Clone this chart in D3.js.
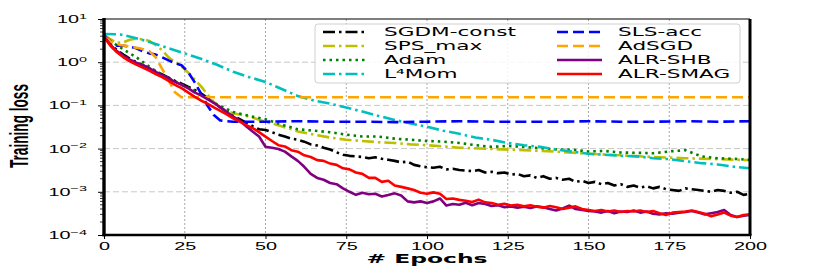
<!DOCTYPE html>
<html>
<head>
<meta charset="utf-8">
<script src="https://cdn.jsdelivr.net/npm/d3@7"></script>
<style>
  body { margin: 0; background: #fff; }
  svg { display: block; }
</style>
</head>
<body>
<div class="chart"></div>
<script>
// ---- data ----
const epochs2 = d3.range(0, 201, 2);   // x grid of the noisy runs
const epochs5 = d3.range(0, 201, 5);

const sgdmConst = [4.0, 2.6, 1.9, 1.5, 1.2, 1.0, 0.85, 0.73, 0.62, 0.52,
  0.44, 0.37, 0.32, 0.27, 0.23, 0.19, 0.15, 0.115, 0.09, 0.072,
  0.058, 0.048, 0.04, 0.033, 0.028, 0.027, 0.024, 0.021, 0.019, 0.017,
  0.016, 0.0145, 0.0125, 0.0118, 0.0105, 0.0095, 0.0082, 0.0072, 0.0068, 0.0066,
  0.0064, 0.006, 0.0063, 0.0058, 0.0055, 0.0052, 0.0048, 0.005, 0.0042, 0.0039,
  0.0037, 0.0036, 0.0038, 0.0033, 0.0034, 0.0032, 0.0031, 0.003, 0.0032, 0.0028,
  0.0029, 0.0027, 0.0028, 0.0025, 0.0026, 0.0023, 0.0024, 0.0021, 0.0023, 0.002,
  0.0021, 0.0019, 0.002, 0.0017, 0.0018, 0.0016, 0.0017, 0.0015, 0.0016, 0.0014,
  0.0015, 0.0013, 0.0014, 0.00125, 0.00135, 0.0012, 0.0013, 0.00115, 0.0011, 0.00105,
  0.0012, 0.00115, 0.0011, 0.00105, 0.001, 0.0011, 0.00105, 0.00095, 0.001, 0.00085,
  0.0009];

const alrShb = [4.0, 2.5, 1.8, 1.4, 1.15, 0.98, 0.85, 0.73, 0.6, 0.5,
  0.42, 0.35, 0.3, 0.25, 0.2, 0.17, 0.14, 0.115, 0.09, 0.07,
  0.055, 0.045, 0.033, 0.025, 0.019, 0.011, 0.0105, 0.0098, 0.0085, 0.0066,
  0.0052, 0.0038, 0.0026, 0.0021, 0.0019, 0.0016, 0.0015, 0.0012, 0.001, 0.00085,
  0.00095, 0.00088, 0.0009, 0.00078, 0.00084, 0.00092, 0.00082, 0.0006, 0.00057, 0.0006,
  0.00055, 0.0006, 0.0007, 0.00048, 0.00052, 0.0005, 0.00056, 0.00049, 0.00055, 0.00052,
  0.00047, 0.00049, 0.00044, 0.00046, 0.00043, 0.00045, 0.00042, 0.00046, 0.00044, 0.0004,
  0.00037, 0.00041, 0.00048, 0.0004, 0.00038, 0.00036, 0.00035, 0.00033, 0.00036, 0.00032,
  0.00035, 0.00034, 0.00037, 0.00033, 0.00035, 0.00031, 0.0003, 0.00032, 0.00031, 0.00033,
  0.00034, 0.00036, 0.00033, 0.0003, 0.00032, 0.00034, 0.00038, 0.00029, 0.00026, 0.00028,
  0.00029];

const alrSmag = [3.8, 2.4, 1.7, 1.3, 1.05, 0.88, 0.75, 0.64, 0.53, 0.45,
  0.37, 0.3, 0.25, 0.2, 0.16, 0.13, 0.11, 0.09, 0.075, 0.062,
  0.05, 0.042, 0.035, 0.03, 0.024, 0.019, 0.015, 0.012, 0.0112, 0.0092,
  0.0085, 0.007, 0.0064, 0.0054, 0.0052, 0.0045, 0.0042, 0.0035, 0.0033, 0.0028,
  0.0026, 0.0021, 0.0021, 0.0017, 0.0018, 0.0014, 0.0013, 0.0012, 0.0011, 0.00095,
  0.0009, 0.00097, 0.0009, 0.00068, 0.0007, 0.00065, 0.00062, 0.00058, 0.00066, 0.00057,
  0.00055, 0.0005, 0.00053, 0.00048, 0.0005, 0.00046, 0.00049, 0.00045, 0.00043, 0.00047,
  0.00044, 0.0004, 0.00043, 0.00046, 0.0004, 0.00038, 0.00036, 0.00038, 0.00035, 0.00037,
  0.00034, 0.00036, 0.00035, 0.00037, 0.00034, 0.00036, 0.00032, 0.00029, 0.00033, 0.00034,
  0.00035, 0.00037, 0.00034, 0.00031, 0.00027, 0.0003, 0.00033, 0.00028, 0.00026, 0.00029,
  0.0003];

const adam = [3.9, 2.2, 1.3, 0.7, 0.42, 0.28, 0.18, 0.105, 0.07, 0.057,
  0.048, 0.036, 0.028, 0.026, 0.024, 0.021, 0.019, 0.019, 0.017, 0.016,
  0.015, 0.0145, 0.0135, 0.012, 0.011, 0.0115, 0.011, 0.0102, 0.0096, 0.0094,
  0.0086, 0.0088, 0.0081, 0.008, 0.0078, 0.0086, 0.0092, 0.0066, 0.006, 0.0058,
  0.0055];

const l4Mom = [4.5, 4.4, 3.6, 2.8, 2.1, 1.6, 1.2, 0.87, 0.6, 0.45,
  0.35, 0.24, 0.165, 0.13, 0.11, 0.089, 0.072, 0.057, 0.046, 0.038,
  0.032, 0.026, 0.022, 0.018, 0.016, 0.0135, 0.012, 0.011, 0.0095, 0.0085,
  0.0076, 0.0072, 0.0068, 0.0066, 0.006, 0.0057, 0.0051, 0.0046, 0.0043, 0.0038,
  0.0035];

const spsEpochs = [0, 2, 4, 6, 8, 10, 12, 14, 16, 18, 20, 22, 24, 26, 28, 30, 32, 34, 36, 38, 40,
  45, 50, 55, 60, 65, 70, 75, 80, 85, 90, 95, 100,
  110, 120, 130, 140, 150, 160, 170, 180, 190, 200];
const spsMax = [4.3, 3.4, 2.8, 2.9, 3.3, 3.5, 3.4, 3.1, 2.5, 1.9, 1.3, 1.0, 0.8, 0.58, 0.4, 0.28, 0.18, 0.12, 0.09, 0.075, 0.066,
  0.055, 0.042, 0.033, 0.025, 0.021, 0.018, 0.016, 0.015, 0.014, 0.0135, 0.0125, 0.012,
  0.0105, 0.0098, 0.0092, 0.0085, 0.0076, 0.007, 0.0064, 0.006, 0.0057, 0.0054];

const slsEpochs = [0, 2, 4, 6, 8, 10, 12, 14, 16, 18, 20, 22, 24, 26, 28, 30, 32, 34, 36, 38, 40,
  50, 60, 70, 80, 90, 100, 110, 120, 130, 140, 150, 160, 170, 180, 190, 200];
const slsAcc = [4.2, 3.0, 2.4, 2.4, 2.3, 2.1, 1.8, 1.6, 1.5, 1.3, 1.1, 0.95, 0.85, 0.6, 0.35, 0.19, 0.1, 0.06, 0.045, 0.043, 0.042,
  0.042, 0.043, 0.042, 0.042, 0.041, 0.042, 0.043, 0.042, 0.042, 0.042, 0.043, 0.042, 0.042, 0.043, 0.042, 0.043];

const adsgdEpochs = [0, 2, 5, 8, 11, 14, 16, 18, 20, 22, 24, 50, 100, 150, 200];
const adsgd = [4.0, 3.0, 2.5, 2.3, 2.1, 1.8, 1.3, 0.7, 0.38, 0.2, 0.155, 0.155, 0.155, 0.155, 0.155];

const xTicks = [0, 25, 50, 75, 100, 125, 150, 175, 200];
const yExponents = [-4, -3, -2, -1, 0, 1];

// ---- layout ----
const width = 830, height = 277;
const margin = {top: 19, right: 80, bottom: 42, left: 104};
const SX = 1.8; // the figure's text is stretched sideways

const x = d3.scaleLinear().domain([0, 200]).range([margin.left, width - margin.right]);
const y = d3.scaleLog().domain([1e-4, 1e1]).range([height - margin.bottom, margin.top]);

const series = [
  {name: "SGDM-const", xs: epochs2, ys: sgdmConst, color: "#000000", dash: "12,4,2.5,4"},
  {name: "SPS_max", xs: spsEpochs, ys: spsMax, color: "#bfbf00", dash: "12,4,2.5,4"},
  {name: "Adam", xs: epochs5, ys: adam, color: "#008000", dash: "2.5,4"},
  {name: "L⁴Mom", xs: epochs5, ys: l4Mom, color: "#00bfbf", dash: "12,4,2.5,4"},
  {name: "SLS-acc", xs: slsEpochs, ys: slsAcc, color: "#0000ff", dash: "11,5"},
  {name: "AdSGD", xs: adsgdEpochs, ys: adsgd, color: "#ffa500", dash: "11,5"},
  {name: "ALR-SHB", xs: epochs2, ys: alrShb, color: "#800080", dash: null},
  {name: "ALR-SMAG", xs: epochs2, ys: alrSmag, color: "#ff0000", dash: null}
];

const svg = d3.select(".chart").append("svg")
    .attr("width", width)
    .attr("height", height)
    .attr("viewBox", [0, 0, width, height])
    .style("font-family", "'DejaVu Sans', sans-serif");

svg.append("rect").attr("width", width).attr("height", height).attr("fill", "#fff");

// grid
svg.append("g")
  .selectAll("line")
  .data(xTicks.slice(1, -1))
  .join("line")
    .attr("x1", d => x(d)).attr("x2", d => x(d))
    .attr("y1", y(1e1)).attr("y2", y(1e-4))
    .attr("stroke", "#a8a8a8")
    .attr("stroke-width", 1)
    .attr("stroke-dasharray", "2,2");

svg.append("g")
  .selectAll("line")
  .data(yExponents.slice(1, -1))
  .join("line")
    .attr("x1", x(0)).attr("x2", x(200))
    .attr("y1", d => y(Math.pow(10, d))).attr("y2", d => y(Math.pow(10, d)))
    .attr("stroke", "#c8c8c8")
    .attr("stroke-width", 1)
    .attr("stroke-dasharray", "6,3");

// lines
svg.append("clipPath").attr("id", "plot-clip")
  .append("rect")
    .attr("x", x(0)).attr("y", y(1e1))
    .attr("width", x(200) - x(0)).attr("height", y(1e-4) - y(1e1));

const line = d3.line()
    .x(d => x(d[0]))
    .y(d => y(d[1]));

svg.append("g")
    .attr("clip-path", "url(#plot-clip)")
  .selectAll("path")
  .data(series)
  .join("path")
    .attr("fill", "none")
    .attr("stroke", d => d.color)
    .attr("stroke-width", 2.6)
    .attr("stroke-linejoin", "round")
    .attr("stroke-dasharray", d => d.dash)
    .attr("d", d => line(d3.zip(d.xs, d.ys)));

// y axis: decades with superscript labels + minor ticks
const yAxis = svg.append("g")
    .attr("transform", `translate(${x(0)},0)`)
    .call(d3.axisLeft(y).tickValues(yExponents.map(e => Math.pow(10, e))).tickSize(6).tickFormat(() => ""))
    .call(g => g.select(".domain").remove());

yAxis.selectAll(".tick text")
    .attr("x", -17 / SX)
    .attr("transform", `scale(${SX},1)`)
    .attr("font-size", 11)
    .attr("fill", "#000")
    .each(function(d) {
      const e = Math.round(Math.log10(d));
      const t = d3.select(this);
      t.append("tspan").text("10");
      t.append("tspan").attr("dy", -4.5).attr("font-size", 8)
          .text(e < 0 ? "\u2212" + (-e) : String(e));
    });

const minor = [];
yExponents.slice(0, -1).forEach(e => {
  for (let k = 2; k <= 9; k++) minor.push(k * Math.pow(10, e));
});
svg.append("g")
  .selectAll("line")
  .data(minor)
  .join("line")
    .attr("x1", x(0) - 4).attr("x2", x(0))
    .attr("y1", d => y(d)).attr("y2", d => y(d))
    .attr("stroke", "#000")
    .attr("stroke-width", 0.8);

// x axis
const xAxis = svg.append("g")
    .attr("transform", `translate(0,${y(1e-4)})`)
    .call(d3.axisBottom(x).tickValues(xTicks).tickSize(4).tickFormat(d3.format("d")))
    .call(g => g.select(".domain").remove());

xAxis.selectAll(".tick text")
    .attr("transform", `scale(${SX},1)`)
    .attr("font-size", 11)
    .attr("fill", "#000");

// spines
const frame = svg.append("g").attr("stroke", "#000").attr("fill", "none");
frame.append("line").attr("x1", x(0)).attr("x2", x(200)).attr("y1", y(1e1)).attr("y2", y(1e1)).attr("stroke-width", 1.2);
frame.append("line").attr("x1", x(200)).attr("x2", x(200)).attr("y1", y(1e1)).attr("y2", y(1e-4)).attr("stroke-width", 3);
frame.append("line").attr("x1", x(0) - 1.5).attr("x2", x(200) + 1.5).attr("y1", y(1e-4)).attr("y2", y(1e-4)).attr("stroke-width", 2.6);
frame.append("line").attr("x1", x(0)).attr("x2", x(0)).attr("y1", y(1e1) - 1).attr("y2", y(1e-4) + 1.3).attr("stroke-width", 3.4);

// axis titles
svg.append("text")
    .attr("transform", `translate(${(x(0) + x(200)) / 2},263) scale(${SX},1)`)
    .attr("text-anchor", "middle")
    .attr("font-size", 13)
    .attr("font-weight", "bold")
    .text("# Epochs");

svg.append("text")
    .attr("transform", "translate(28,126) rotate(-90)")
    .attr("text-anchor", "middle")
    .attr("font-family", "'Liberation Sans', Arial, sans-serif")
    .attr("font-size", 25)
    .attr("font-weight", "bold")
    .attr("textLength", 84)
    .attr("lengthAdjust", "spacingAndGlyphs")
    .text("Training loss");

// legend
const legend = svg.append("g");
legend.append("rect")
    .attr("x", 315).attr("y", 24)
    .attr("width", 425).attr("height", 59)
    .attr("rx", 3)
    .attr("fill", "#fff").attr("fill-opacity", 0.85)
    .attr("stroke", "#d0d0d0");

const item = legend.selectAll("g.item")
  .data(series)
  .join("g")
    .attr("class", "item")
    .attr("transform", (d, i) => `translate(${i < 4 ? 323 : 557},${32 + (i % 4) * 14})`);

item.append("line")
    .attr("x1", 0).attr("x2", 45)
    .attr("stroke", d => d.color)
    .attr("stroke-width", 2.4)
    .attr("stroke-dasharray", d => d.dash);

item.append("text")
    .attr("transform", `translate(61,0) scale(${SX},1)`)
    .attr("dy", "0.36em")
    .attr("font-size", 12)
    .attr("fill", "#000")
    .text(d => d.name);
</script>
</body>
</html>
